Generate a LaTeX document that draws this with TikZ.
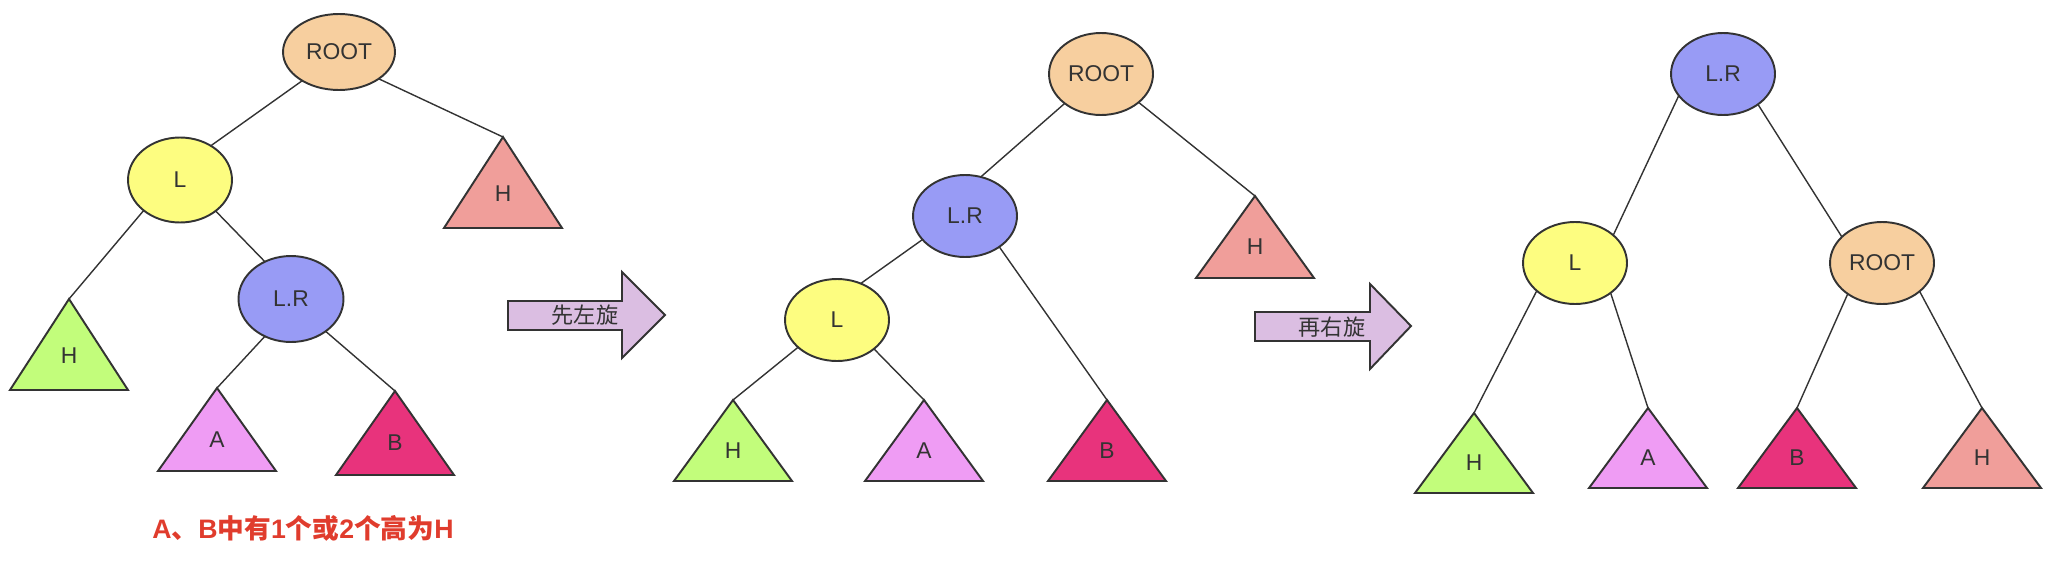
\documentclass[tikz,border=0pt]{standalone}
\usepackage{fontspec}
\setmainfont{Liberation Sans}
\newfontfamily\cjk{Noto Sans CJK SC}
\usetikzlibrary{calc}
\usetikzlibrary{shapes.geometric}
\usepackage{xcolor}
\definecolor{linec}{HTML}{333333}
\definecolor{rootc}{HTML}{F7CF9F}
\definecolor{lc}{HTML}{FDFD80}
\definecolor{lrc}{HTML}{989BF5}
\definecolor{hgc}{HTML}{C2FD7B}
\definecolor{ac}{HTML}{EF9CF4}
\definecolor{bc}{HTML}{E8337C}
\definecolor{hsc}{HTML}{F09E9A}
\definecolor{arrc}{HTML}{DBBEE2}
\definecolor{notec}{HTML}{E03C2D}
\tikzset{
  tnode/.style={ellipse, draw=linec, line width=1.1pt, inner sep=0pt, outer sep=0pt,
    minimum width=2.08cm, minimum height=1.64cm, text=linec, font=\fontsize{13}{15}\selectfont},
  edge/.style={draw=linec, line width=0.8pt},
  tri/.style={draw=linec, line width=1.1pt},
  ttext/.style={text=linec, inner sep=0pt, font=\fontsize{13}{15}\selectfont},
  turn/.style={fill=arrc, draw=linec, line width=1.1pt},
}
\newcommand\subtree[6]{%
  \coordinate (#1) at (#2,#3);
  \filldraw[tri, fill=#5] (#1) -- ++(59,#4) -- ++(-118,0) -- cycle;
  \node[ttext] (#1-l) at ($(#1)+(0,0.62*#4)$) {#6};
}

\begin{document}
\begin{tikzpicture}[x=0.02cm, y=-0.02cm]
\useasboundingbox (0,0) rectangle (2064,568);
\node[tnode, fill=rootc, minimum width=2.24cm, minimum height=1.52cm] (r1) at (339,52) {ROOT};
\node[tnode, fill=lc, minimum height=1.7cm] (l1) at (180,180) {L};
\node[tnode, fill=lrc, minimum width=2.1cm, minimum height=1.72cm] (lr1) at (291,299) {L.R};
\subtree{h1g}{69}{299}{91}{hgc}{H}
\subtree{a1}{217}{388}{83}{ac}{A}
\subtree{b1}{395}{391}{84}{bc}{B}
\subtree{h1s}{503}{137}{91}{hsc}{H}
\draw[edge] (r1.218) -- (l1.48);
\draw[edge] (r1.326) -- (h1s);
\draw[edge] (l1.220) -- (h1g);
\draw[edge] (l1.319) -- (lr1.125);
\draw[edge] (lr1.235) -- (a1);
\draw[edge] (lr1.317) -- (b1);
\node[text=notec, font=\fontsize{15.2}{18}\selectfont\bfseries] (note) at (303,528)
  {A{\cjk 、}B{\cjk 中有}1{\cjk 个或}2{\cjk 个高为}H};

\draw[turn] (508,301) -- (622,301) -- (622,272) -- (665,315) -- (622,358) -- (622,330) -- (508,330) -- cycle;
\node[ttext, font=\fontsize{12.6}{15}\selectfont\cjk] (turn1) at (585,315) {先左旋};

\node[tnode, fill=rootc] (r2) at (1101,74) {ROOT};
\node[tnode, fill=lrc] (lr2) at (965,216) {L.R};
\node[tnode, fill=lc] (l2) at (837,320) {L};
\subtree{h2s}{1255}{196}{82}{hsc}{H}
\subtree{h2g}{733}{400}{81}{hgc}{H}
\subtree{a2}{924}{400}{81}{ac}{A}
\subtree{b2}{1107}{400}{81}{bc}{B}
\draw[edge] (r2.219) -- (lr2.68);
\draw[edge] (r2.323) -- (h2s);
\draw[edge] (lr2.209) -- (l2.57);
\draw[edge] (lr2.318) -- (b2);
\draw[edge] (l2.215) -- (h2g);
\draw[edge] (l2.322) -- (a2);

\draw[turn] (1255,312) -- (1370,312) -- (1370,284) -- (1411,326) -- (1370,369) -- (1370,341) -- (1255,341) -- cycle;
\node[ttext, font=\fontsize{12.6}{15}\selectfont\cjk] (turn2) at (1332,327) {再右旋};

\node[tnode, fill=lrc] (lr3) at (1723,74) {L.R};
\node[tnode, fill=lc] (l3) at (1575,263) {L};
\node[tnode, fill=rootc] (r3) at (1882,263) {ROOT};
\subtree{h3g}{1474}{413}{80}{hgc}{H}
\subtree{a3}{1648}{408}{80}{ac}{A}
\subtree{b3}{1797}{408}{80}{bc}{B}
\subtree{h3s}{1982}{408}{80}{hsc}{H}
\draw[edge] (lr3.206) -- (l3.36);
\draw[edge] (lr3.319) -- (r3.147);
\draw[edge] (l3.216) -- (h3g);
\draw[edge] (l3.320) -- (a3);
\draw[edge] (r3.222) -- (b3);
\draw[edge] (r3.323) -- (h3s);
\end{tikzpicture}
\end{document}
